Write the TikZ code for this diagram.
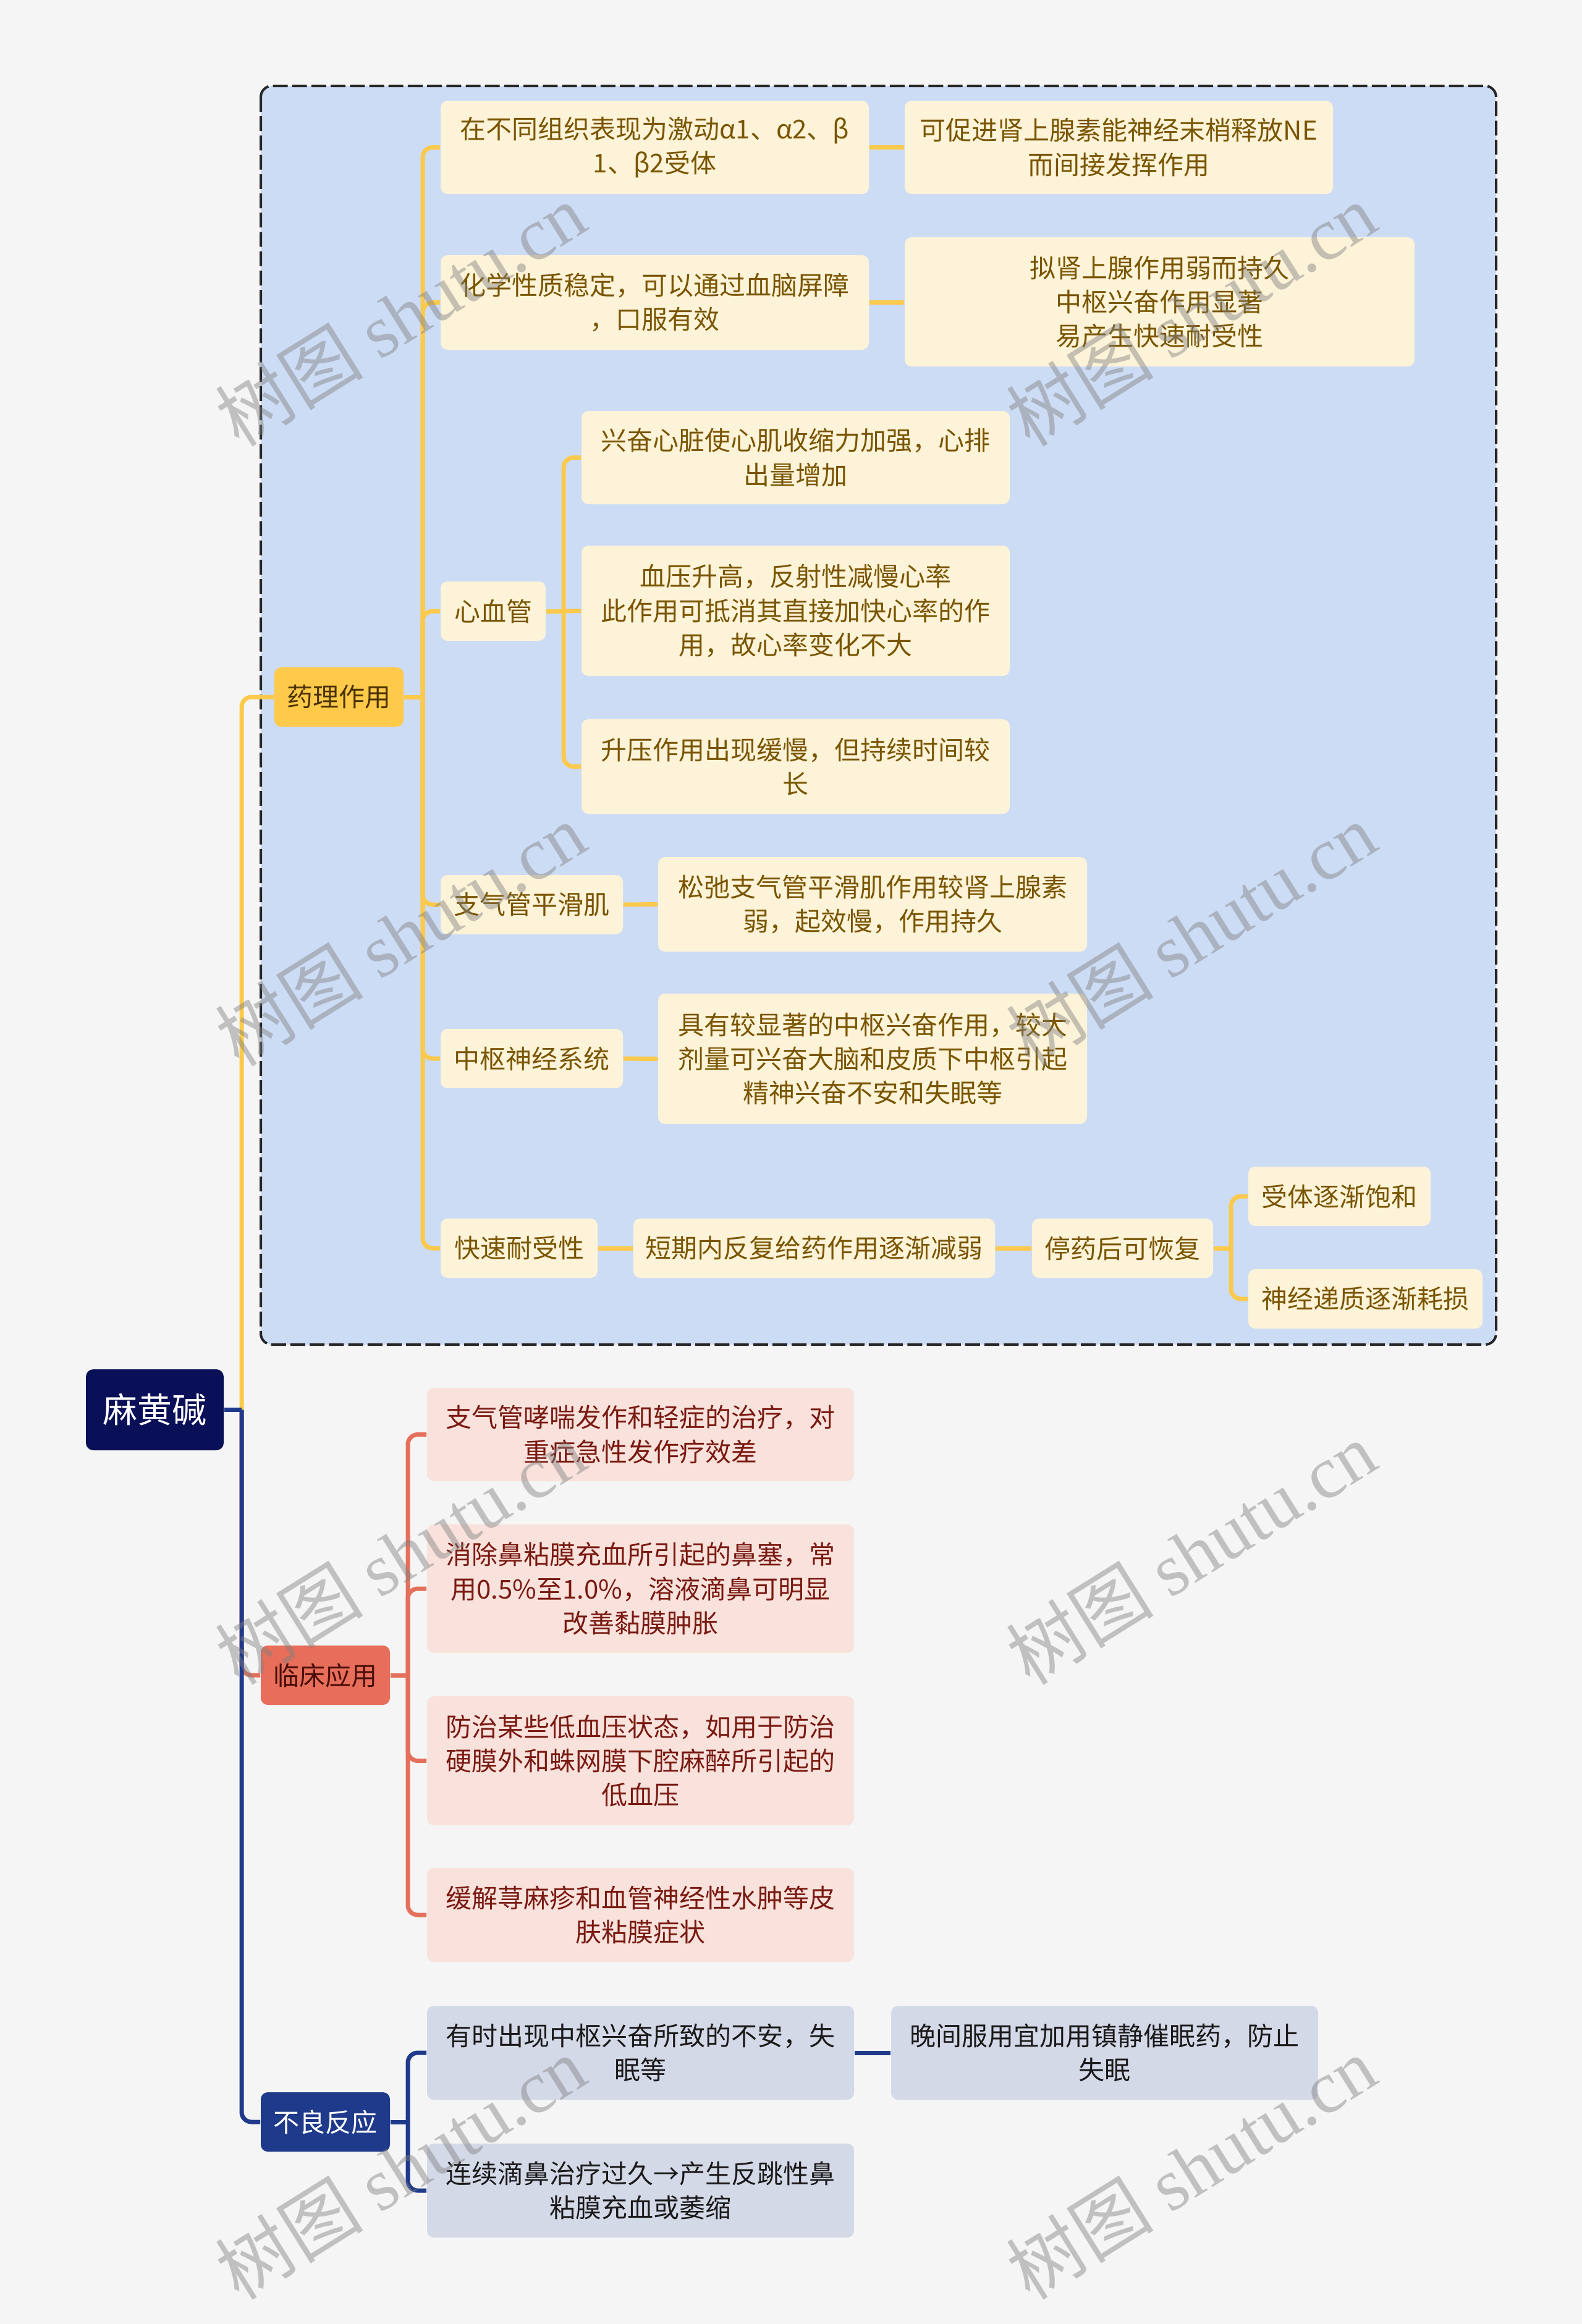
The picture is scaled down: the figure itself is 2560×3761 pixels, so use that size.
\documentclass[tikz,border=0pt]{standalone}
\usepackage{fontspec}
\setmainfont{Noto Sans CJK SC}
\newfontfamily\wmserif{Liberation Serif}
\definecolor{bgc}{HTML}{F5F5F5}
\definecolor{panel}{HTML}{CDDCF5}
\definecolor{yline}{HTML}{FBC94B}
\definecolor{ymainc}{HTML}{FFC94A}
\definecolor{ymaint}{HTML}{4A3300}
\definecolor{ycream}{HTML}{FDF3D8}
\definecolor{ytext}{HTML}{7A5500}
\definecolor{rline}{HTML}{E4705C}
\definecolor{rmainc}{HTML}{E66E5A}
\definecolor{rmaint}{HTML}{4A0E08}
\definecolor{rpink}{HTML}{F9E2DC}
\definecolor{rtext}{HTML}{7A1A12}
\definecolor{bline}{HTML}{1F3A8A}
\definecolor{bmainc}{HTML}{1F3A8A}
\definecolor{bgrey}{HTML}{D4D9E8}
\definecolor{btext}{HTML}{1A1A1A}
\definecolor{rootc}{HTML}{0A1058}
\pgfdeclarelayer{back}
\pgfdeclarelayer{lines}
\pgfsetlayers{back,lines,main}
\newcommand\mybox[7]{\node[#6, minimum width={(#4-#2)*0.25pt}, minimum height={(#5-#3)*0.25pt}] (#1) at ({(#2+#4)/2},{(#3+#5)/2}) {#7};}
\begin{document}
\begin{tikzpicture}[x=0.25pt,y=-0.25pt,
  base/.style={rounded corners=2.8pt, inner sep=0pt, align=center, font=\fontsize{10.5pt}{13.8pt}\selectfont},
  rootst/.style={base, fill=rootc, text=white, rounded corners=3pt, font=\fontsize{14pt}{17pt}\selectfont},
  ymain/.style={base, fill=ymainc, text=ymaint},
  rmain/.style={base, fill=rmainc, text=rmaint},
  bmain/.style={base, fill=bmainc, text=white},
  ybox/.style={base, fill=ycream, text=ytext},
  rbox/.style={base, fill=rpink, text=rtext},
  bbox/.style={base, fill=bgrey, text=btext},
  conn/.style={line width=1.75pt},
  yl/.style={conn, draw=yline},
  rl/.style={conn, draw=rline},
  bl/.style={conn, draw=bline},
  rc/.style={rounded corners=4pt},
  wm/.style={text=gray, opacity=0.45, font=\fontsize{30pt}{30pt}\selectfont}
]
\begin{pgfonlayer}{back}
\fill[bgc] (0,0) rectangle (2560,3761);
\draw[fill=panel, draw=black!85, line width=1pt, dash pattern=on 6pt off 1.8pt, rounded corners=4.5pt] (422,139) rectangle (2421,2176);
\end{pgfonlayer}
\useasboundingbox (0,0) rectangle (2560,3761);

\coordinate (vR) at (391,0);
\coordinate (vA) at (684,0);
\coordinate (vB) at (912,0);
\coordinate (vC) at (1992,0);
\coordinate (vL) at (660,0);

\mybox{root}{139}{2216}{362}{2347}{rootst}{麻黄碱}
\mybox{yao}{444}{1080}{653}{1176}{ymain}{药理作用}
\mybox{lin}{422}{2663}{631}{2759}{rmain}{临床应用}
\mybox{bu}{422}{3386}{631}{3482}{bmain}{不良反应}

\mybox{a1}{713}{163}{1406}{314}{ybox}{在不同组织表现为激动α1、α2、β\\1、β2受体}
\mybox{a1a}{1464}{163}{2157}{314}{ybox}{可促进肾上腺素能神经末梢释放NE\\而间接发挥作用}
\mybox{a2}{713}{413}{1406}{566}{ybox}{化学性质稳定，可以通过血脑屏障\\，口服有效}
\mybox{a2a}{1464}{384}{2289}{593}{ybox}{拟肾上腺作用弱而持久\\中枢兴奋作用显著\\易产生快速耐受性}
\mybox{a3}{713}{941}{883}{1037}{ybox}{心血管}
\mybox{a3a}{941}{665}{1634}{816}{ybox}{兴奋心脏使心肌收缩力加强，心排\\出量增加}
\mybox{a3b}{941}{883}{1634}{1094}{ybox}{血压升高，反射性减慢心率\\此作用可抵消其直接加快心率的作\\用，故心率变化不大}
\mybox{a3c}{941}{1164}{1634}{1317}{ybox}{升压作用出现缓慢，但持续时间较\\长}
\mybox{a4}{713}{1416}{1008}{1512}{ybox}{支气管平滑肌}
\mybox{a4a}{1065}{1387}{1759}{1540}{ybox}{松弛支气管平滑肌作用较肾上腺素\\弱，起效慢，作用持久}
\mybox{a5}{713}{1665}{1008}{1761}{ybox}{中枢神经系统}
\mybox{a5a}{1065}{1608}{1759}{1819}{ybox}{具有较显著的中枢兴奋作用，较大\\剂量可兴奋大脑和皮质下中枢引起\\精神兴奋不安和失眠等}
\mybox{a6}{713}{1972}{967}{2068}{ybox}{快速耐受性}
\mybox{a6a}{1025}{1972}{1610}{2068}{ybox}{短期内反复给药作用逐渐减弱}
\mybox{a6b}{1670}{1972}{1963}{2068}{ybox}{停药后可恢复}
\mybox{a6c}{2020}{1888}{2315}{1984}{ybox}{受体逐渐饱和}
\mybox{a6d}{2020}{2054}{2399}{2150}{ybox}{神经递质逐渐耗损}

\mybox{b1}{691}{2246}{1382}{2397}{rbox}{支气管哮喘发作和轻症的治疗，对\\重症急性发作疗效差}
\mybox{b2}{691}{2467}{1382}{2675}{rbox}{消除鼻粘膜充血所引起的鼻塞，常\\用0.5\%至1.0\%，溶液滴鼻可明显\\改善黏膜肿胀}
\mybox{b3}{691}{2745}{1382}{2954}{rbox}{防治某些低血压状态，如用于防治\\硬膜外和蛛网膜下腔麻醉所引起的\\低血压}
\mybox{b4}{691}{3023}{1382}{3175}{rbox}{缓解荨麻疹和血管神经性水肿等皮\\肤粘膜症状}

\mybox{c1}{691}{3246}{1382}{3398}{bbox}{有时出现中枢兴奋所致的不安，失\\眠等}
\mybox{c1a}{1442}{3246}{2133}{3398}{bbox}{晚间服用宜加用镇静催眠药，防止\\失眠}
\mybox{c2}{691}{3469}{1382}{3621}{bbox}{连续滴鼻治疗过久→产生反跳性鼻\\粘膜充血或萎缩}

\begin{pgfonlayer}{lines}
% root connectors
\draw[yl,rc] (root.east -| vR) |- (yao.west);
\draw[rl,rc] (root.east -| vR) |- (lin.west);
\draw[bl,rc] (root.east -| vR) |- (bu.west);
\draw[bl] (root.east) -- (root.east -| vR);

% pharmacology
\draw[yl] (yao.east) -- (yao.east -| vA);
\foreach \c in {a1,a2,a3,a4,a5,a6}{\draw[yl,rc] (yao.east -| vA) |- (\c.west);}
\draw[yl] (a1.east) -- (a1.east -| a1a.west);
\draw[yl] (a2.east) -- (a2.east -| a2a.west);
\draw[yl] (a3.east) -- (a3.east -| vB);
\draw[yl,rc] (a3.east -| vB) |- (a3a.west);
\draw[yl] (a3.east -| vB) -- (a3b.west);
\draw[yl,rc] (a3.east -| vB) |- (a3c.west);
\draw[yl] (a4.east) -- (a4a.west);
\draw[yl] (a5.east) -- (a5a.west);
\draw[yl] (a6.east) -- (a6a.west);
\draw[yl] (a6a.east) -- (a6b.west);
\draw[yl] (a6b.east) -- (a6b.east -| vC);
\draw[yl,rc] (a6b.east -| vC) |- (a6c.west);
\draw[yl,rc] (a6b.east -| vC) |- (a6d.west);

% clinical
\draw[rl] (lin.east) -- (lin.east -| vL);
\foreach \c in {b1,b2,b3,b4}{\draw[rl,rc] (lin.east -| vL) |- (\c.west);}

% adverse
\draw[bl] (bu.east) -- (bu.east -| vL);
\foreach \c in {c1,c2}{\draw[bl,rc] (bu.east -| vL) |- (\c.west);}
\draw[bl] (c1.east) -- (c1a.west);
\end{pgfonlayer}

% watermarks
\foreach \px/\py [count=\i] in {648/509,1927/509,648/1512,1927/1512,648/2513,1927/2513,648/3508,1927/3508}{
  \node[wm, rotate=32] (wm\i) at (\px,\py) {树图 {\wmserif shutu.cn}};
}
\end{tikzpicture}
\end{document}
